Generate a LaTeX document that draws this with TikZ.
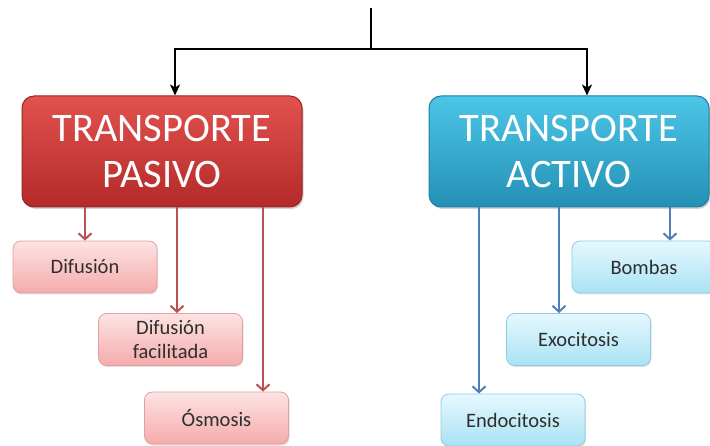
\documentclass[tikz,border=0pt]{standalone}
\usepackage{fontspec}
\setmainfont{Carlito}
\usetikzlibrary{arrows.meta,shadows}

\definecolor{redtop}{HTML}{E2524F}
\definecolor{redbot}{HTML}{B32A28}
\definecolor{redline}{HTML}{9C2422}
\definecolor{bluetop}{HTML}{4CC6E6}
\definecolor{bluebot}{HTML}{2490B6}
\definecolor{blueline}{HTML}{1E7EA0}
\definecolor{pinktop}{HTML}{FDE3E3}
\definecolor{pinkbot}{HTML}{F5ABAB}
\definecolor{pinkline}{HTML}{E3A0A0}
\definecolor{skytop}{HTML}{E6F8FE}
\definecolor{skybot}{HTML}{A9E2F4}
\definecolor{skyline}{HTML}{8DCDE2}
\definecolor{redarrow}{HTML}{B9514F}
\definecolor{bluearrow}{HTML}{4F7FBA}
\definecolor{labeltext}{HTML}{2E2E2E}

\tikzset{
  bigbox/.style={rounded corners=12pt, minimum width=280pt, minimum height=111pt,
    text=white, align=center, font=\fontsize{40.5}{47}\selectfont, line width=1pt,
    drop shadow={shadow xshift=1.5pt, shadow yshift=-2pt, opacity=0.35}},
  passivebox/.style={bigbox, top color=redtop, bottom color=redbot, draw=redline},
  activebox/.style={bigbox, top color=bluetop, bottom color=bluebot, draw=blueline},
  smallbox/.style={rounded corners=8pt, minimum width=144pt, minimum height=52pt,
    text=labeltext, align=center, font=\fontsize{20.5}{24}\selectfont, line width=0.8pt,
    drop shadow={shadow xshift=1pt, shadow yshift=-1.5pt, opacity=0.25}},
  pinkbox/.style={smallbox, top color=pinktop, bottom color=pinkbot, draw=pinkline},
  skybox/.style={smallbox, top color=skytop, bottom color=skybot, draw=skyline},
  mainarrow/.style={draw=black, line width=2pt, -{Stealth[length=11pt,width=10pt,inset=3pt]}},
  redconn/.style={draw=redarrow, line width=2pt, -{Straight Barb[length=6pt,width=13pt]}},
  blueconn/.style={draw=bluearrow, line width=2pt, -{Straight Barb[length=6pt,width=13pt]}},
}

\begin{document}
\begin{tikzpicture}[x=1pt,y=-1pt]
  \useasboundingbox (0,0) rectangle (710,446);

  % main categories
  \node[passivebox] (pasivo) at (162,151.5) {TRANSPORTE\\PASIVO};
  \node[activebox]  (activo) at (569,151.5) {TRANSPORTE\\ACTIVO};

  % passive transport kinds
  \node[pinkbox] (difusion)   at (85,267)    {Difusión};
  \node[pinkbox] (facilitada) at (170.5,339.5) {Difusión\\facilitada};
  \node[pinkbox] (osmosis)    at (216.5,418)   {Ósmosis};

  % active transport kinds
  \node[skybox] (bombas)      at (644,267)   {Bombas};
  \node[skybox] (exocitosis)  at (578.5,339.5) {Exocitosis};
  \node[skybox] (endocitosis) at (513,420)   {Endocitosis};

  % branching from the heading
  \coordinate (root) at (371,8);
  \coordinate (fork) at (371,49);
  \draw[line width=2pt] (root) -- (fork);
  \draw[mainarrow] (fork) -| (pasivo.north -| 175,0);
  \draw[mainarrow] (fork) -| (activo.north -| 587,0);

  % connectors to the passive kinds
  \draw[redconn] (pasivo.south -| 85,0)  -- (difusion.north -| 85,0);
  \draw[redconn] (pasivo.south -| 177,0) -- (facilitada.north -| 177,0);
  \draw[redconn] (pasivo.south -| 263,0) -- (osmosis.north -| 263,0);

  % connectors to the active kinds
  \draw[blueconn] (activo.south -| 670,0) -- (bombas.north -| 670,0);
  \draw[blueconn] (activo.south -| 559,0) -- (exocitosis.north -| 559,0);
  \draw[blueconn] (activo.south -| 479,0) -- (endocitosis.north -| 479,0);
\end{tikzpicture}
\end{document}
